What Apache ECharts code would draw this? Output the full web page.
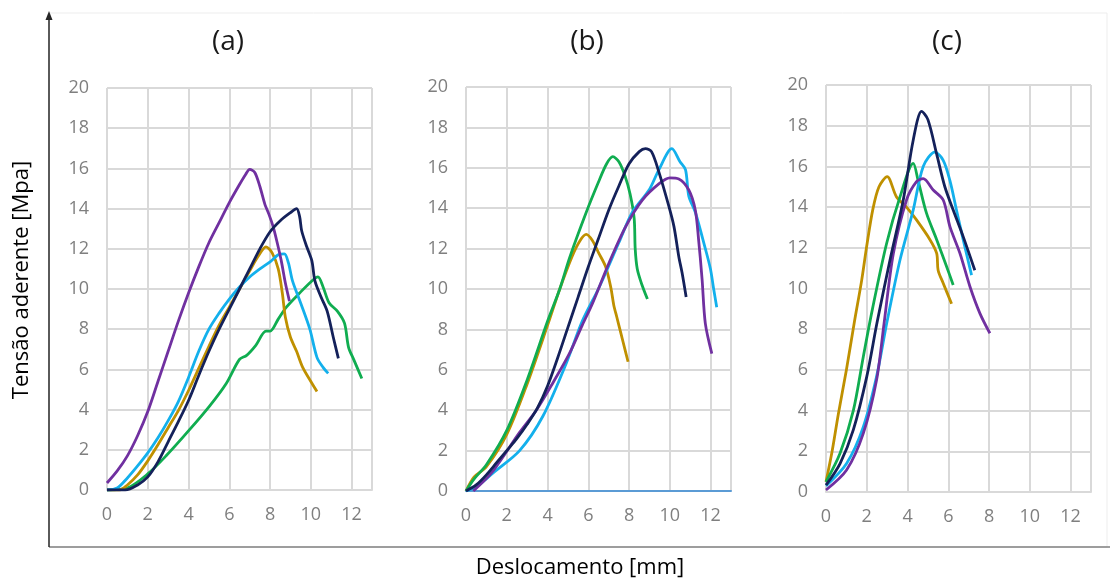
<!DOCTYPE html>
<html>
<head>
<meta charset="utf-8">
<script src="https://cdn.jsdelivr.net/npm/echarts@6/dist/echarts.min.js"></script>
<style>
html,body{margin:0;padding:0;background:#fff;}
#chart{width:1110px;height:581px;}
</style>
</head>
<body>
<div id="chart"></div>
<script>
// eixos
var panelTitles = ['(a)', '(b)', '(c)'];
var xTicks = [0, 2, 4, 6, 8, 10, 12];
var yTicks = [0, 2, 4, 6, 8, 10, 12, 14, 16, 18, 20];

// painel (a)
var aPurple = [[0,0.35],[0.5,0.95],[1,1.7],[1.5,2.7],[2,3.9],[2.5,5.4],[3,6.9],[3.5,8.4],[4,9.8],[4.5,11.1],[5,12.3],[5.5,13.3],[6,14.3],[6.5,15.2],[6.8,15.7],[7.0,15.95],[7.25,15.8],[7.5,15.1],[7.75,14.2],[7.95,13.7],[8.15,13.1],[8.35,12.3],[8.55,11.4],[8.75,10.3],[8.95,9.4]];
var aNavy = [[0,0],[0.9,0],[1.5,0.25],[2,0.65],[2.5,1.4],[3,2.4],[3.5,3.4],[4,4.45],[4.5,5.7],[5,6.9],[5.5,8],[6,9],[6.5,10],[7,11],[7.5,12.0],[8,12.85],[8.5,13.4],[9,13.8],[9.3,14],[9.45,13.6],[9.55,12.9],[9.8,12.1],[10.05,11.4],[10.2,10.4],[10.5,9.6],[10.8,8.9],[11.1,7.6],[11.35,6.55]];
var aBlue = [[0,0],[0.5,0.1],[1,0.6],[1.5,1.2],[2,1.85],[2.5,2.6],[3,3.45],[3.5,4.4],[4,5.6],[4.5,6.9],[5,8.0],[5.5,8.8],[6,9.5],[6.5,10.1],[7,10.6],[7.5,11.0],[8,11.35],[8.4,11.7],[8.7,11.75],[8.9,11.3],[9.1,10.4],[9.5,9.3],[9.95,8],[10.3,6.6],[10.6,6.1],[10.85,5.8]];
var aGold = [[0,0],[0.6,0],[1,0.25],[1.5,0.75],[2,1.45],[2.5,2.25],[3,3.1],[3.5,3.95],[4,4.95],[4.5,6.05],[5,7.15],[5.5,8.2],[6,9.1],[6.5,10],[7,10.9],[7.4,11.6],[7.8,12.1],[8.1,11.8],[8.4,11],[8.6,9.8],[8.75,8.6],[9.0,7.6],[9.3,6.9],[9.6,6.1],[10.0,5.4],[10.3,4.9]];
var aGreen = [[0,0],[1,0.1],[2,0.8],[2.9,1.7],[4.05,3],[5.05,4.2],[5.85,5.3],[6.5,6.5],[6.85,6.7],[7.3,7.2],[7.8,7.9],[8.0,7.9],[8.4,8.5],[8.8,9.1],[9.45,9.8],[10.1,10.45],[10.35,10.6],[10.6,10.1],[10.9,9.3],[11.3,8.9],[11.65,8.3],[11.85,7.1],[12.1,6.5],[12.5,5.55]];

// painel (b)
var bGreen = [[0,0],[0.4,0.6],[1,1.3],[2,3.0],[3,5.5],[4,8.4],[4.6,10.0],[5.1,11.6],[5.9,13.8],[6.5,15.3],[6.9,16.2],[7.2,16.55],[7.5,16.3],[7.8,15.6],[8.05,14.7],[8.25,13.5],[8.3,12],[8.4,11],[8.6,10.3],[8.9,9.5]];
var bGold = [[0,0],[0.4,0.7],[1,1.2],[2,2.8],[3,5.3],[4,8.2],[4.6,10],[5.2,11.6],[5.6,12.4],[5.9,12.7],[6.2,12.4],[6.5,11.8],[6.85,11.1],[7.1,10.1],[7.25,9.2],[7.4,8.6],[7.6,7.8],[7.8,7.0],[7.95,6.4]];
var bNavy = [[0,0],[0.5,0.3],[1,0.8],[1.5,1.4],[2,2.0],[2.5,2.6],[3,3.3],[3.5,4.1],[4,5.2],[4.5,6.6],[5,8.1],[5.5,9.6],[6,11.1],[6.5,12.5],[7,13.9],[7.5,15.1],[8,16.2],[8.5,16.8],[8.8,16.95],[9.1,16.8],[9.46,15.8],[9.95,14.1],[10.2,13.1],[10.44,11.6],[10.6,10.8],[10.8,9.6]];
var bBlue = [[0,0],[0.5,0.2],[1.33,0.9],[2.63,2.0],[3.77,3.7],[4.91,6.3],[5.7,8.4],[6.54,10.1],[7.5,12.3],[8.16,13.8],[8.98,14.9],[9.46,15.9],[10.1,16.95],[10.5,16.3],[10.77,15.9],[10.93,14.6],[11.25,13.8],[11.74,12.0],[11.99,11.0],[12.15,10.0],[12.3,9.1]];
var bPurple = [[0.36,0],[1.33,1.0],[2.63,2.9],[3.45,4.0],[4.26,5.35],[5.07,6.8],[5.7,8.2],[6.21,9.3],[7.02,11.3],[7.84,13.1],[8.65,14.4],[9.46,15.2],[10.0,15.5],[10.44,15.45],[10.93,14.9],[11.25,13.9],[11.41,12.45],[11.58,10.5],[11.74,8.3],[12.06,6.8]];

// painel (c)
var cNavy = [[0,0.34],[0.69,1.4],[1.34,3.05],[2.0,5.67],[2.5,8.3],[3.14,11.4],[3.79,14.35],[4.28,17.3],[4.69,18.7],[5.0,18.3],[5.43,16.6],[5.83,15.0],[6.24,13.86],[6.73,12.55],[7.3,10.9]];
var cBlue = [[0,0.3],[1.01,1.4],[1.83,3.2],[2.48,5.67],[3.0,8.4],[3.63,11.4],[4.28,13.86],[4.77,16.0],[5.34,16.7],[5.75,16.3],[6.08,15.3],[6.4,13.86],[6.73,12.4],[7.14,10.66]];
var cGreen = [[0,0.5],[0.69,1.9],[1.34,4.0],[1.83,6.65],[2.28,9.0],[2.97,12.2],[3.63,14.5],[4.28,16.15],[4.52,15.3],[4.93,13.7],[5.43,12.4],[5.92,11.07],[6.24,10.17]];
var cPurple = [[0,0.1],[1.01,1.08],[1.83,2.88],[2.48,5.5],[2.85,8.3],[3.3,11.7],[3.95,14.35],[4.44,15.25],[4.77,15.4],[5.26,14.84],[5.75,14.35],[6.08,13.04],[6.57,11.73],[7.06,10.1],[7.55,8.78],[8.04,7.8]];
var cGold = [[0,0.5],[0.3,2.0],[0.6,3.8],[1.0,6.0],[1.4,8.4],[1.75,10.4],[2.0,12.1],[2.3,13.9],[2.6,15.0],[3.0,15.5],[3.46,14.5],[3.95,14.0],[4.44,13.37],[5.1,12.4],[5.43,11.73],[5.5,10.9],[5.75,10.26],[6.16,9.25]];

var colors = {purple:'#7030a0', navy:'#14215a', blue:'#13b0ec', gold:'#bf9000', green:'#10ad50'};

var panels = [
    {left:107, top:88, height:402, axisColor:'#d9d9d9', series:[['green',aGreen],['gold',aGold],['blue',aBlue],['purple',aPurple],['navy',aNavy]]},
    {left:466, top:87, height:404, axisColor:'#5b9bd5', series:[['gold',bGold],['green',bGreen],['blue',bBlue],['purple',bPurple],['navy',bNavy]]},
    {left:826, top:85, height:407, axisColor:'#d9d9d9', series:[['gold',cGold],['green',cGreen],['blue',cBlue],['purple',cPurple],['navy',cNavy]]}
];

var myChart = echarts.init(document.getElementById('chart'));
var grids = [], xAxes = [], yAxes = [], series = [], graphics = [];
var labelStyle = {color:'#7f7f7f', fontSize:18, fontFamily:'Open Sans'};

panels.forEach(function (p, i) {
    grids.push({left:p.left, top:p.top, width:265, height:p.height});
    xAxes.push({
        type:'value', gridIndex:i, min:xTicks[0], max:13, interval:2,
        axisLine:{show:true, lineStyle:{color:p.axisColor, width:2}},
        axisTick:{show:false},
        axisLabel:Object.assign({margin:16, showMaxLabel:false}, labelStyle),
        splitLine:{lineStyle:{color:'#d9d9d9', width:2}}
    });
    yAxes.push({
        type:'value', gridIndex:i, min:yTicks[0], max:yTicks[yTicks.length-1], interval:2,
        axisLine:{show:false}, axisTick:{show:false},
        axisLabel:Object.assign({margin:18}, labelStyle),
        splitLine:{lineStyle:{color:'#d9d9d9', width:2}}
    });
    p.series.forEach(function (s) {
        series.push({
            type:'line', xAxisIndex:i, yAxisIndex:i, data:s[1],
            showSymbol:false, smooth:0.3,
            lineStyle:{color:colors[s[0]], width:2.8},
            itemStyle:{color:colors[s[0]]}
        });
    });
    graphics.push({type:'text', x:[228,587,947][i], y:42,
        style:{text:panelTitles[i], fontSize:28, fontFamily:'Open Sans', fill:'#1a1a1a', align:'center', verticalAlign:'middle'}});
});

// moldura e títulos dos eixos
graphics.push(
    {type:'rect', shape:{x:49, y:13, width:1058, height:534}, style:{fill:'none', stroke:'#ededed', lineWidth:1}},
    {type:'line', shape:{x1:49, y1:547, x2:1110, y2:547}, style:{stroke:'#7f7f7f', lineWidth:1.5}},
    {type:'line', shape:{x1:49, y1:547, x2:49, y2:18}, style:{stroke:'#262626', lineWidth:1.5}},
    {type:'polygon', shape:{points:[[49,11],[45.5,20],[52.5,20]]}, style:{fill:'#262626'}},
    {type:'text', x:22, y:280, rotation:Math.PI/2,
        style:{text:'Tensão aderente [Mpa]', fontSize:22, fontFamily:'Open Sans', fill:'#000', align:'center', verticalAlign:'middle'}},
    {type:'text', x:580, y:568,
        style:{text:'Deslocamento [mm]', fontSize:22, fontFamily:'Open Sans', fill:'#000', align:'center', verticalAlign:'middle'}}
);

option = {
    animation:false,
    backgroundColor:'#fff',
    grid:grids,
    xAxis:xAxes,
    yAxis:yAxes,
    series:series,
    graphic:graphics
};
myChart.setOption(option);
</script>
</body>
</html>
